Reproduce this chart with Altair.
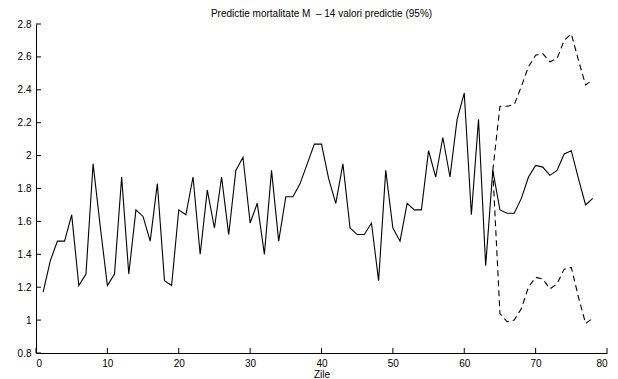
import altair as alt
import pandas as pd

# Observed daily mortality (days 1..64)
days_obs = list(range(1, 65))
mortality_obs = [1.17, 1.36, 1.48, 1.48, 1.64, 1.21, 1.28, 1.95, 1.57, 1.21,
                 1.28, 1.87, 1.28, 1.67, 1.63, 1.48, 1.83, 1.24, 1.21, 1.67,
                 1.64, 1.87, 1.40, 1.79, 1.56, 1.87, 1.52, 1.91, 1.99, 1.59,
                 1.71, 1.40, 1.91, 1.48, 1.75, 1.75, 1.83, 1.95, 2.07, 2.07,
                 1.86, 1.71, 1.95, 1.56, 1.52, 1.52, 1.59, 1.24, 1.91, 1.56,
                 1.48, 1.71, 1.67, 1.67, 2.03, 1.87, 2.11, 1.87, 2.22, 2.38,
                 1.64, 2.22, 1.33, 1.91]

# Prediction (days 64..78) with 95% bounds
days_pred = list(range(64, 79))
pred_mid = [1.91, 1.67, 1.65, 1.65, 1.74, 1.87, 1.94, 1.93, 1.88, 1.91,
            2.01, 2.03, 1.86, 1.70, 1.74]
pred_up = [1.91, 2.30, 2.30, 2.31, 2.42, 2.54, 2.61, 2.62, 2.57, 2.59,
           2.70, 2.74, 2.58, 2.43, 2.46]
pred_low = [1.91, 1.04, 0.99, 1.00, 1.07, 1.20, 1.26, 1.25, 1.19, 1.22,
            1.31, 1.32, 1.14, 0.98, 1.01]

x_ticks = [0, 10, 20, 30, 40, 50, 60, 70, 80]
y_ticks = [0.8, 1.0, 1.2, 1.4, 1.6, 1.8, 2.0, 2.2, 2.4, 2.6, 2.8]

W, H = 571, 329
FONT = "Liberation Sans"

solid = pd.DataFrame({
    "zi": days_obs + days_pred[1:],
    "val": mortality_obs + pred_mid[1:],
})
bounds = pd.DataFrame({
    "zi": days_pred + days_pred,
    "val": pred_up + pred_low,
    "b": ["up"] * len(days_pred) + ["low"] * len(days_pred),
})

xs = alt.Scale(domain=[0, 80], nice=False, zero=False)
ys = alt.Scale(domain=[0.8, 2.8], nice=False, zero=False)

xaxis = alt.Axis(values=x_ticks, grid=False, ticks=False,
                 domainColor="black", domainWidth=1,
                 labelFont=FONT, labelFontSize=10, labelColor="black",
                 labelPadding=5, titleFont=FONT, titleFontSize=10,
                 titleFontWeight="normal", titleColor="black",
                 titlePadding=1)
yaxis = alt.Axis(values=y_ticks, grid=False, ticks=False, format="~g",
                 domainColor="black", domainWidth=1,
                 labelFont=FONT, labelFontSize=10, labelColor="black",
                 labelPadding=5)


def X(field):
    return alt.X(field, scale=xs, axis=xaxis, title="Zile")


def Y(field):
    return alt.Y(field, scale=ys, axis=yaxis, title=None)


main = alt.Chart(solid).mark_line(color="black", strokeWidth=1.1).encode(
    x=X("zi:Q"), y=Y("val:Q"),
)

dashed = alt.Chart(bounds).mark_line(color="black", strokeWidth=1.1,
                                     strokeDash=[6, 4]).encode(
    x=X("zi:Q"), y=Y("val:Q"), detail="b:N",
)

xt = alt.Chart(pd.DataFrame({"t": x_ticks})).mark_rule(color="black").encode(
    x=X("t:Q"), y=alt.value(H), y2=alt.value(H - 5),
)
yt = alt.Chart(pd.DataFrame({"t": y_ticks})).mark_rule(color="black").encode(
    y=Y("t:Q"), x=alt.value(0), x2=alt.value(5),
)

chart = alt.layer(main, dashed, xt, yt).properties(
    width=W, height=H,
    title=alt.TitleParams("Predictie mortalitate M\u00a0 \u2013 14 valori predictie (95%)",
                          font=FONT, fontSize=10, fontWeight="normal",
                          color="black", anchor="middle", offset=0),
    autosize=alt.AutoSizeParams(type="none"),
    padding={"left": 28, "top": 16, "right": 3, "bottom": 26},
).configure_view(stroke=None)

chart.save("out.html", embed_options={"renderer": "svg", "actions": False})
